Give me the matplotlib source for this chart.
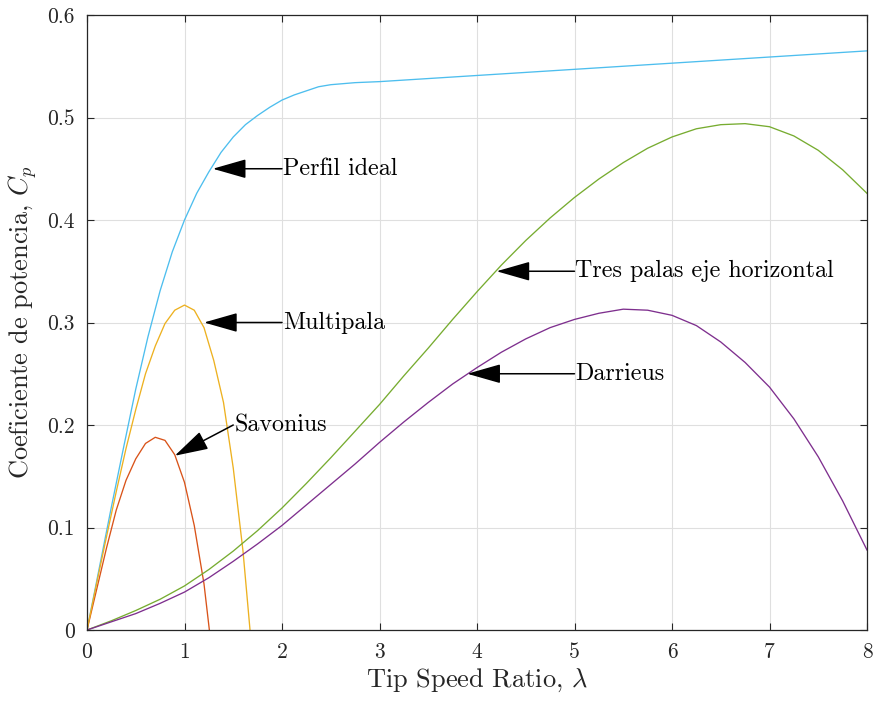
import matplotlib
matplotlib.use("Agg")
import matplotlib.pyplot as plt

# ---------------- data ----------------
ideal_x = [0, 0.125, 0.25, 0.375, 0.5, 0.625, 0.75, 0.875, 1.0, 1.125, 1.25, 1.375, 1.5, 1.625,
           1.75, 1.875, 2.0, 2.125, 2.25, 2.375, 2.5, 2.625, 2.75, 3.0, 4.0, 5.0, 6.0, 7.0, 8.0]
ideal_y = [0, 0.060, 0.120, 0.178, 0.235, 0.286, 0.331, 0.369, 0.400, 0.426, 0.447, 0.466, 0.481, 0.493,
           0.502, 0.510, 0.517, 0.522, 0.526, 0.530, 0.532, 0.533, 0.534, 0.535, 0.541, 0.547, 0.553, 0.559, 0.565]

savonius_x = [0, 0.1, 0.2, 0.3, 0.4, 0.5, 0.6, 0.7, 0.8, 0.9, 1.0, 1.1, 1.2, 1.255]
savonius_y = [0, 0.040, 0.080, 0.117, 0.146, 0.167, 0.182, 0.188, 0.185, 0.171, 0.144, 0.102, 0.045, 0.0]

multipala_x = [0, 0.1, 0.2, 0.3, 0.4, 0.5, 0.6, 0.7, 0.8, 0.9, 1.0, 1.1, 1.2, 1.3, 1.4, 1.5, 1.6, 1.672]
multipala_y = [0, 0.046, 0.091, 0.135, 0.177, 0.215, 0.250, 0.277, 0.299, 0.312, 0.317, 0.312, 0.295, 0.263, 0.222, 0.158, 0.077, 0.0]

tsr = [0, 0.25, 0.5, 0.75, 1.0, 1.25, 1.5, 1.75, 2.0, 2.25, 2.5, 2.75, 3.0, 3.25, 3.5, 3.75,
       4.0, 4.25, 4.5, 4.75, 5.0, 5.25, 5.5, 5.75, 6.0, 6.25, 6.5, 6.75, 7.0, 7.25, 7.5, 7.75, 8.0]
tres_palas_y = [0, 0.009, 0.019, 0.030, 0.043, 0.059, 0.077, 0.097, 0.119, 0.143, 0.168, 0.194, 0.220,
                0.248, 0.275, 0.303, 0.330, 0.356, 0.380, 0.402, 0.422, 0.440, 0.456, 0.470, 0.481,
                0.489, 0.493, 0.494, 0.491, 0.482, 0.468, 0.449, 0.426]
darrieus_y = [0, 0.008, 0.016, 0.026, 0.037, 0.051, 0.067, 0.084, 0.102, 0.122, 0.142, 0.162, 0.183,
              0.203, 0.222, 0.240, 0.256, 0.271, 0.284, 0.295, 0.303, 0.309, 0.313, 0.312, 0.307,
              0.297, 0.281, 0.261, 0.237, 0.206, 0.169, 0.126, 0.078]

labels = ["Perfil ideal", "Multipala", "Savonius", "Tres palas eje horizontal", "Darrieus"]
label_xy = [(2.0, 0.45), (2.0, 0.30), (1.5, 0.20), (5.0, 0.35), (5.0, 0.25)]
arrow_tip = [(1.29, 0.45), (1.20, 0.30), (0.90, 0.17), (4.20, 0.35), (3.90, 0.25)]

xticks = [0, 1, 2, 3, 4, 5, 6, 7, 8]
yticks = [0, 0.1, 0.2, 0.3, 0.4, 0.5, 0.6]

# ---------------- style ----------------
plt.rcParams['font.family'] = ['cmr10', 'DejaVu Serif']
plt.rcParams['mathtext.fontset'] = 'cm'
plt.rcParams['axes.formatter.use_mathtext'] = True
plt.rcParams['axes.unicode_minus'] = False

c_blue = '#4DBEEE'
c_red = '#D95319'
c_yellow = '#EDB120'
c_purple = '#7E2F8E'
c_green = '#77AC30'
c_axis = '#262626'

fig = plt.figure(figsize=(8.8, 7.03), dpi=100)
ax = fig.add_axes([87/880, 73/703, 780/880, 615/703])

lw = 0.95
ax.plot(ideal_x, ideal_y, color=c_blue, lw=lw)
ax.plot(savonius_x, savonius_y, color=c_red, lw=lw)
ax.plot(multipala_x, multipala_y, color=c_yellow, lw=lw)
ax.plot(tsr, tres_palas_y, color=c_green, lw=lw)
ax.plot(tsr, darrieus_y, color=c_purple, lw=lw)

for lab, (tx, ty), (hx, hy) in zip(labels, label_xy, arrow_tip):
    ax.annotate('', xy=(hx, hy), xytext=(tx, ty),
                arrowprops=dict(arrowstyle='-|>,head_length=21,head_width=6',
                                mutation_scale=1, color='black', lw=1.1,
                                shrinkA=0, shrinkB=0))
    ax.text(tx + 0.01, ty, lab, fontsize=17.3, va='center', ha='left', color='black')

ax.set_xlim(0, 8)
ax.set_ylim(0, 0.6)
ax.set_xticks(xticks)
ax.set_yticks(yticks)
ax.set_xticklabels([str(v) for v in xticks])
ax.set_yticklabels(['0' if v == 0 else f'{v:.1f}' for v in yticks])

ax.grid(True, color='#DFDFDF', lw=0.8)
ax.set_axisbelow(True)
for s in ax.spines.values():
    s.set_color(c_axis)
    s.set_linewidth(0.9)
ax.tick_params(direction='in', length=5, width=0.8, color=c_axis, labelcolor=c_axis,
               labelsize=15.5, top=True, right=True, pad=9)

ax.set_xlabel(r'Tip Speed Ratio, $\lambda$', fontsize=19, color=c_axis, labelpad=3)
ax.set_ylabel(r'Coeficiente de potencia, $C_p$', fontsize=19, color=c_axis, labelpad=6)

fig.savefig('out.png', dpi=100)
